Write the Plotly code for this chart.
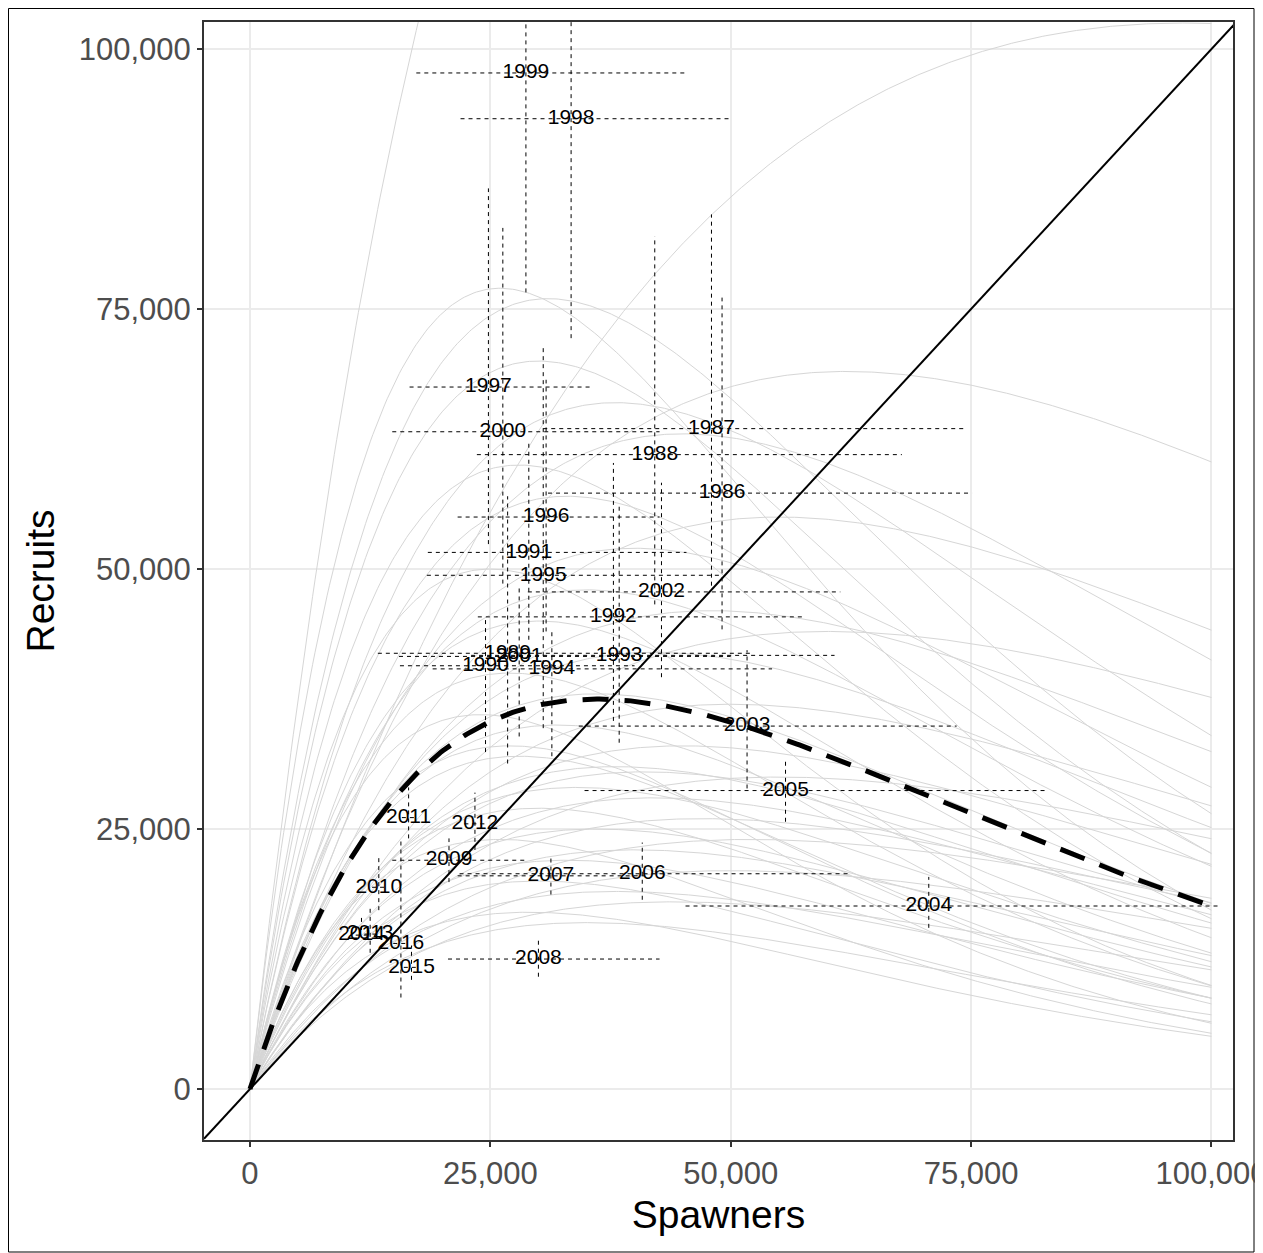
import numpy as np
import plotly.graph_objects as go

# ---------------- data ----------------
years = [1986, 1987, 1988, 1989, 1990, 1991, 1992, 1993, 1994, 1995, 1996, 1997, 1998,
         1999, 2000, 2001, 2002, 2003, 2004, 2005, 2006, 2007, 2008, 2009, 2010, 2011,
         2012, 2013, 2014, 2015, 2016]
spawners = [49100, 48000, 42100, 26800, 24500, 29000, 37800, 38400, 31400, 30500, 30800, 24800, 33400,
            28700, 26300, 28000, 42800, 51700, 70600, 55700, 40800, 31300, 30000, 20700, 13400, 16500,
            23400, 12500, 11600, 16800, 15700]
spawners_lo = [31000, 30500, 23600, 13300, 15600, 18500, 23700, 23000, 19000, 18400, 21600, 16600, 21900,
               17300, 14800, 15500, 28900, 34200, 45300, 34800, 21800, 21600, 20600, 14800, 12700, 15800,
               22300, 11900, 11000, 16000, 14900]
spawners_hi = [75100, 74400, 67800, 52000, 40000, 45400, 57500, 60800, 54300, 48900, 42600, 35400, 50100,
               45200, 42600, 50000, 61400, 73500, 100700, 83000, 62200, 41100, 42600, 28800, 14100, 17200,
               24500, 13100, 12200, 17600, 16500]
recruits = [57300, 63500, 61000, 41900, 40700, 51600, 45400, 41700, 40400, 49400, 55000, 67500, 93300,
            97700, 63200, 41600, 47800, 34900, 17600, 28700, 20700, 20500, 12500, 22000, 19400, 26100,
            25500, 14900, 14800, 11700, 14000]
recruits_lo = [44200, 48400, 46600, 31300, 32400, 43200, 35400, 33300, 32000, 34700, 44000, 52400, 72200,
               76600, 48600, 33900, 39600, 28900, 15500, 25700, 18200, 18700, 10800, 19900, 17200, 24100,
               23000, 13100, 15300, 10500, 8800]
recruits_hi = [76100, 84100, 82000, 57000, 45100, 62400, 60200, 56200, 44300, 71300, 68200, 86600, 120500,
               124600, 82800, 48200, 58300, 42200, 20400, 31600, 23700, 22500, 14300, 24100, 22200, 29000,
               28500, 17400, 16700, 13800, 24100]

# posterior Ricker curves: spawners at maximum recruitment and the maximum recruitment
curve_smax = [51000, 97000, 26000, 31000, 30000, 62000, 38000, 45000, 28000, 33000, 55000, 40000, 25000,
              35000, 48000, 30000, 60000, 42000, 27000, 36000, 50000, 32000, 45000, 28000, 38000, 55000,
              34000, 42000, 30000, 47000, 36000, 26000, 40000, 33000, 50000, 30000, 38000, 44000, 29000,
              35000, 24000, 41000, 52000, 27000]
curve_rmax = [155000, 102500, 77000, 76000, 70000, 69000, 66000, 63000, 60000, 57000, 55000, 52000, 50000,
              48000, 46000, 45000, 44000, 42000, 40000, 38000, 37000, 35000, 33000, 32000, 31000, 30000,
              29000, 28000, 27000, 26000, 25000, 24000, 23000, 22000, 21000, 20000, 19000, 18000, 17000,
              16000, 36000, 30500, 24000, 33000]

median_smax = 36000
median_rmax = 37500

x_ticks = [0, 25000, 50000, 75000, 100000]
x_tick_text = ["0", "25,000", "50,000", "75,000", "100,000"]
y_ticks = [0, 25000, 50000, 75000, 100000]
y_tick_text = ["0", "25,000", "50,000", "75,000", "100,000"]

x_range = [-4780, 102240]
y_range = [-4900, 102600]

# ---------------- figure ----------------
W, H = 1255, 1245
L, T, R_, B = 196, 14, 30, 113
FONT = "Liberation Sans, Arial"

fig = go.Figure()

s_grid = np.linspace(0, 100000, 400)
for smax, rmax in zip(curve_smax, curve_rmax):
    rec = rmax * (s_grid / smax) * np.exp(1 - s_grid / smax)
    fig.add_trace(go.Scatter(x=s_grid, y=rec, mode="lines",
                             line=dict(color="#d6d6d6", width=1), hoverinfo="skip", showlegend=False))

# 1:1 line
fig.add_trace(go.Scatter(x=[x_range[0], 110000], y=[x_range[0], 110000], mode="lines",
                         line=dict(color="black", width=2), showlegend=False, hoverinfo="skip"))

# horizontal error bars (spawners)
hx, hy = [], []
for s0, s1, r in zip(spawners_lo, spawners_hi, recruits):
    hx += [s0, s1, None]
    hy += [r, r, None]
fig.add_trace(go.Scatter(x=hx, y=hy, mode="lines",
                         line=dict(color="black", width=1, dash="4px,4px"), showlegend=False, hoverinfo="skip"))
# vertical error bars (recruits)
vx, vy = [], []
for s, r0, r1 in zip(spawners, recruits_lo, recruits_hi):
    vx += [s, s, None]
    vy += [r0, r1, None]
fig.add_trace(go.Scatter(x=vx, y=vy, mode="lines",
                         line=dict(color="black", width=1, dash="4px,4px"), showlegend=False, hoverinfo="skip"))

# median curve
med = median_rmax * (s_grid / median_smax) * np.exp(1 - s_grid / median_smax)
fig.add_trace(go.Scatter(x=s_grid, y=med, mode="lines",
                         line=dict(color="black", width=5, dash="26px,16px"), showlegend=False, hoverinfo="skip"))

# year labels
fig.add_trace(go.Scatter(x=spawners, y=recruits, mode="text", text=[str(y) for y in years],
                         textfont=dict(family=FONT, size=21, color="black"),
                         textposition="middle center", showlegend=False, hoverinfo="skip"))

pw = W - L - R_
ph = H - T - B
def px_x(p):
    return (p - L) / pw
def px_y(p):
    return 1 - (p - T) / ph

fig.add_shape(type="rect", xref="paper", yref="paper",
              x0=px_x(0.5), x1=px_x(1246), y0=px_y(1244), y1=px_y(0.5),
              line=dict(color="black", width=1), fillcolor="rgba(0,0,0,0)", layer="below")

axis_common = dict(showgrid=True, gridcolor="#ebebeb", gridwidth=1.5, zeroline=False,
                   showline=True, linecolor="#333333", linewidth=2, mirror=True,
                   ticks="outside", ticklen=5, tickcolor="#333333", tickwidth=1.5,
                   ticklabeloverflow="allow",
                   tickfont=dict(family=FONT, size=31, color="#4d4d4d"))

fig.update_layout(
    width=W, height=H,
    margin=dict(l=L, r=R_, t=T, b=B, autoexpand=False),
    paper_bgcolor="white", plot_bgcolor="white",
    xaxis=dict(range=x_range, tickvals=x_ticks, ticktext=x_tick_text,
               title=dict(text="Spawners", font=dict(family=FONT, size=39, color="black"),
                          standoff=10), **axis_common),
    yaxis=dict(range=y_range, tickvals=y_ticks, ticktext=y_tick_text,
               title=dict(text="Recruits", font=dict(family=FONT, size=39, color="black"),
                          standoff=12), **axis_common),
)

fig.write_html("out.html")
